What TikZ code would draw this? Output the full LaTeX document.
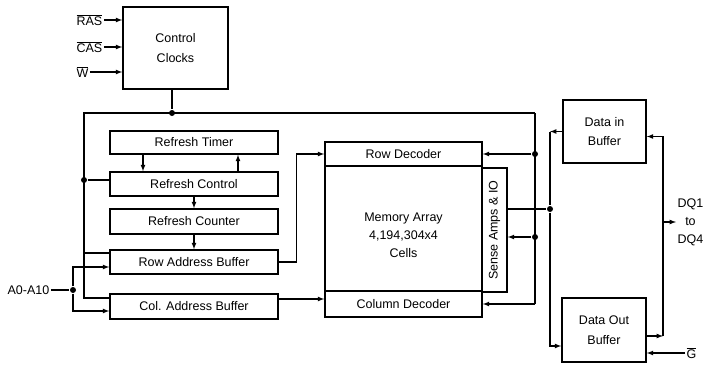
\documentclass[tikz,border=0pt]{standalone}
\usepackage{fontspec}
\setmainfont{Liberation Sans}
\usetikzlibrary{arrows}

\tikzset{
  blk/.style={draw, line width=1.6pt, inner sep=0pt, font=\fontsize{12.5}{19.5}\selectfont, align=center},
  lbl/.style={inner sep=1pt, font=\fontsize{12.5}{18}\selectfont, align=center},
  dot/.style={circle, fill, inner sep=0pt, minimum size=6pt},
}

\begin{document}
\begin{tikzpicture}[x=1pt,y=-1pt,line width=1.2pt,>=latex]
\useasboundingbox (0,0) rectangle (703,364);
% blocks
\node[blk, minimum width=105, minimum height=82] (clk) at (175.5,48) {Control\\Clocks};
\node[blk, minimum width=168, minimum height=23] (timer) at (194,142.5) {Refresh Timer};
\node[blk, minimum width=168, minimum height=24] (control) at (194,184) {Refresh Control};
\node[blk, minimum width=168, minimum height=25] (counter) at (194,221.5) {Refresh Counter};
\node[blk, minimum width=168, minimum height=24] (rowbuf) at (194,262) {Row Address Buffer};
\node[blk, minimum width=168, minimum height=25] (colbuf) at (194,306.5) {Col. Address Buffer};
\node[blk, minimum width=157, minimum height=125] (mem) at (403.5,228.5) {};
\node[lbl] (memtxt) at (403.5,235) {Memory Array\\4,194,304x4\\Cells};
\node[blk, minimum width=157, minimum height=24] (rowdec) at (403.5,154) {Row Decoder};
\node[blk, minimum width=157, minimum height=26] (coldec) at (403.5,304) {Column Decoder};
\node[blk, rotate=90, minimum width=124, minimum height=25] (sense) at (494.5,230) {Sense Amps \& IO};
\node[blk, minimum width=83, minimum height=63] (din) at (604.5,131.5) {Data in\\Buffer};
\node[blk, minimum width=84, minimum height=64] (dout) at (604,330) {Data Out\\Buffer};
% labels
\node[lbl, anchor=west] (ras) at (75,20) {$\overline{\hbox{RAS}}$};
\node[lbl, anchor=west] (cas) at (75,47) {$\overline{\hbox{CAS}}$};
\node[lbl, anchor=west] (w) at (75,72) {$\overline{\hbox{W}}$};
\node[lbl, anchor=west] (addr) at (6,290) {A0-A10};
\node[lbl, anchor=west] (dq) at (676,222) {DQ1\\to\\DQ4};
\node[lbl, anchor=west] (g) at (685,353) {$\overline{\hbox{G}}$};
% junctions
\coordinate (tl) at (84,113);
\coordinate (tr) at (535,113);
\coordinate (rb) at (84,253);
\coordinate (bl) at (84,298);
\coordinate (br) at (535,304);
\coordinate (dqj) at (663,222);
\node[dot] (d1) at (172,113) {};
\node[dot] (d2) at (84,180) {};
\node[dot] (d3) at (73,290) {};
\node[dot] (d4) at (535,154) {};
\node[dot] (d5) at (535,237) {};
\node[dot] (d6) at (550,209) {};
% control inputs
\draw[->] (ras.east) -- (ras.east -| clk.west);
\draw[->] (cas.east) -- (cas.east -| clk.west);
\draw[->] (w.east) -- (w.east -| clk.west);
\draw (d1 |- clk.south) -- (d1);
\draw (tr) -- (tl) -- (bl) -- (bl -| colbuf.west);
\draw (d2) -- (d2 -| control.west);
\draw (rb) -- (rb -| rowbuf.west);
\draw (tr) -- (br);
\draw[->] (d4) -- (d4 -| rowdec.east);
\draw[->] (d5) -- (d5 -| sense.south);
\draw[->] (br) -- (br -| coldec.east);
% refresh chain
\draw[->] ([xshift=-51pt]timer.south) -- ([xshift=-51pt]control.north);
\draw[->] ([xshift=44pt]control.north) -- ([xshift=44pt]timer.south);
\draw[->] (control.south) -- (counter.north);
\draw[->] (counter.south) -- (rowbuf.north);
% address
\draw (addr) -- (d3);
\draw[->] (d3) |- ([yshift=-5pt]rowbuf.west);
\draw[->] (d3) |- ([yshift=-4.5pt]colbuf.west);
\draw[->] (rowbuf.east) -- ++(18,0) |- (rowdec.west);
\draw[->] ([yshift=5pt]coldec.west -| colbuf.east) -- ([yshift=5pt]coldec.west);
% data
\draw (d6 -| sense.south) -- (d6);
\draw[->] (din.west) -- (din.west -| d6);
\draw (din.west -| d6) -- (d6);
\draw[->] (d6) |- ([yshift=-16pt]dout.west);
\draw[->] (dqj) |- ([yshift=-5pt]din.east);
\draw[->] ([yshift=-6pt]dout.east) -- ([yshift=-6pt]dout.east -| dqj);
\draw ([yshift=-6pt]dout.east -| dqj) -- (dqj);
\draw[->] (dqj) -- (dq.west);
\draw[->] (g.west) -- (g.west -| dout.east);
\end{tikzpicture}
\end{document}
